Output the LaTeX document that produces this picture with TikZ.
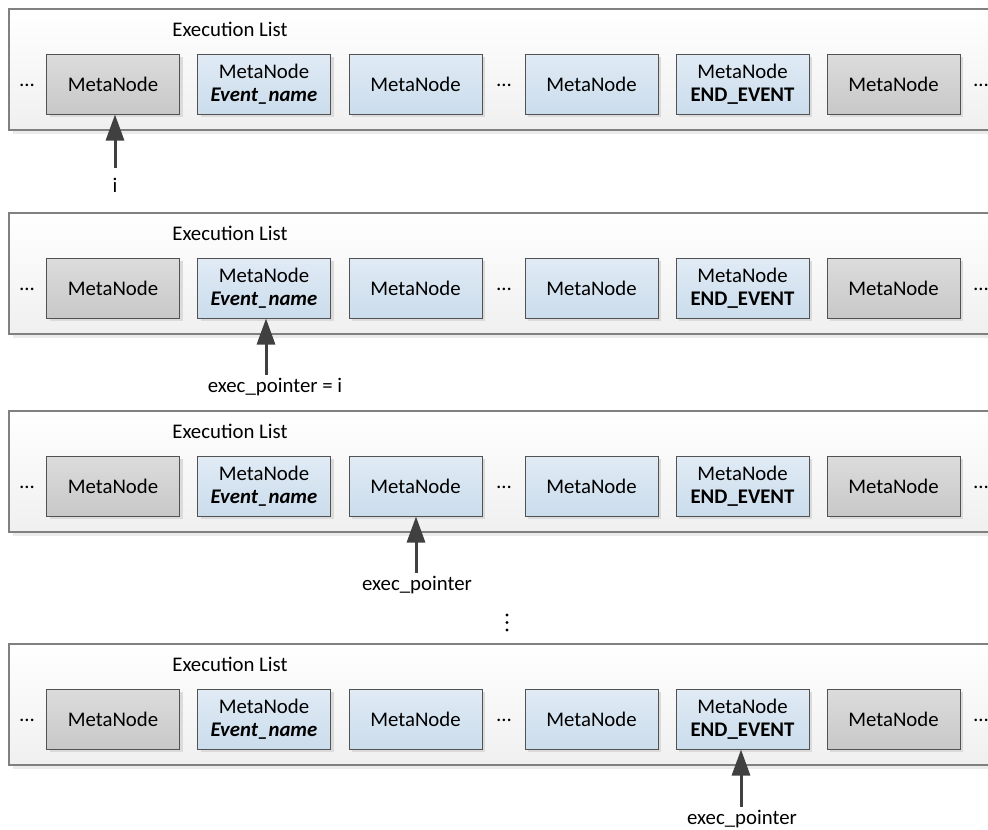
\documentclass[tikz,border=0pt]{standalone}
\usepackage{fontspec}
\setmainfont{Carlito}
\usetikzlibrary{arrows.meta,shadows}
\definecolor{blueTop}{RGB}{224,235,245}
\definecolor{blueBot}{RGB}{203,220,236}
\definecolor{grayTop}{RGB}{220,220,220}
\definecolor{grayBot}{RGB}{200,200,200}
\definecolor{ptrCol}{RGB}{64,64,64}
\newcommand\dgfont{\fontsize{20.8}{25}\selectfont}
\begin{document}
\begin{tikzpicture}[x=1pt,y=-1pt,
  panel/.style={draw=black!50, line width=1.3pt, top color=white, bottom color=black!6,
    drop shadow={shadow xshift=4pt, shadow yshift=-4pt, fill=black!8, opacity=1}},
  mnode/.style={minimum width=133pt, minimum height=60pt, draw=black!68, line width=1pt,
    align=center, font=\dgfont, inner sep=0pt,
    drop shadow={shadow xshift=3pt, shadow yshift=-3pt, fill=black!14, opacity=1}},
  graynode/.style={mnode, top color=grayTop, bottom color=grayBot},
  bluenode/.style={mnode, top color=blueTop, bottom color=blueBot},
  ptr/.style={line width=3pt, draw=ptrCol, -{Triangle[width=18pt,length=26pt]}},
  lbl/.style={font=\dgfont, anchor=base, inner sep=0pt},
]
\useasboundingbox (0,0) rectangle (988,830);
\foreach \p/\t in {1/9,2/213,3/411,4/644} {
  \draw[panel] (9,\t) rectangle (1000,\t+121);
  \node[lbl] (p\p title) at (230,\t+27) {Execution List};
  \node[lbl] (p\p da) at (27,\t+77) {…};
  \node[lbl] (p\p db) at (504,\t+77) {…};
  \node[lbl] (p\p dc) at (981,\t+77) {…};
  \node[graynode] (p\p n1) at (113,\t+75) {MetaNode};
  \node[bluenode] (p\p n2) at (264,\t+75) {MetaNode\\[-2pt]\textbf{\textit{Event\_name}}};
  \node[bluenode] (p\p n3) at (415.5,\t+75) {MetaNode};
  \node[bluenode] (p\p n4) at (591.5,\t+75) {MetaNode};
  \node[bluenode] (p\p n5) at (742.5,\t+75) {MetaNode\\[-2pt]\textbf{END\_EVENT}};
  \node[graynode] (p\p n6) at (893.5,\t+75) {MetaNode};
}
% pointers
\coordinate (t1) at (115,168);
\draw[ptr] (t1) -- (t1 |- p1n1.south);
\node[lbl] (l1) at (115,192) {i};
\coordinate (t2) at (266,375);
\draw[ptr] (t2) -- (t2 |- p2n2.south);
\node[lbl] (l2) at (275,392) {exec\_pointer = i};
\coordinate (t3) at (416,573);
\draw[ptr] (t3) -- (t3 |- p3n3.south);
\node[lbl] (l3) at (417,590) {exec\_pointer};
\coordinate (t4) at (741,807);
\draw[ptr] (t4) -- (t4 |- p4n5.south);
\node[lbl] (l4) at (742,824) {exec\_pointer};
% vertical dots
\foreach \yy in {615,622.5,630} \fill (507,\yy) circle (1.6pt);
\end{tikzpicture}
\end{document}
